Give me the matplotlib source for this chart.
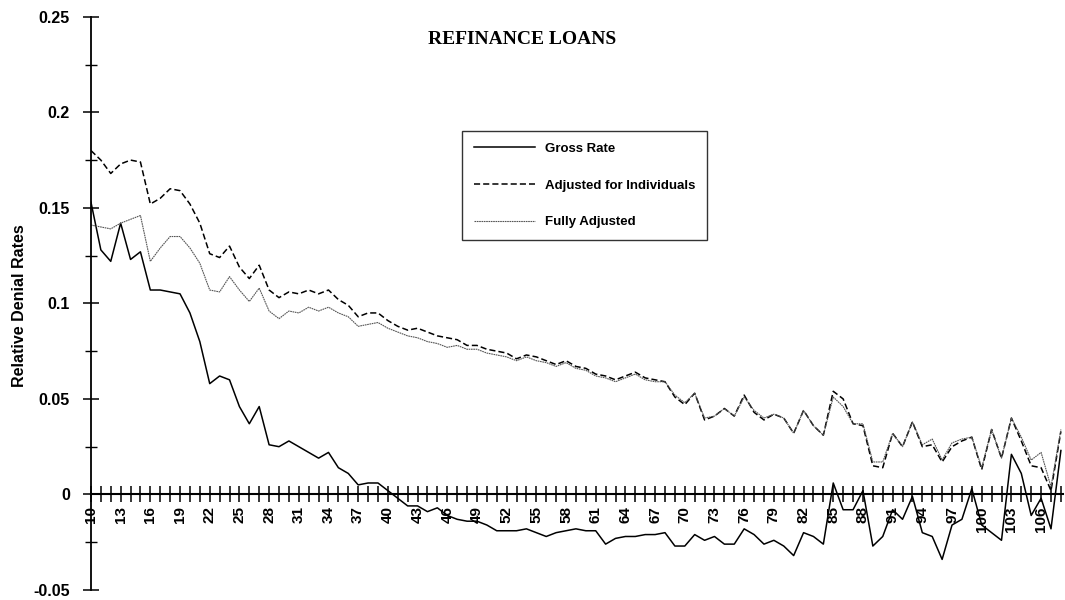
import matplotlib.pyplot as plt
import numpy as np
from matplotlib.ticker import FixedLocator, FuncFormatter

plt.rcParams['font.family'] = ['Liberation Sans', 'DejaVu Sans']

years = np.arange(10, 109)

gross = [0.153, 0.128, 0.122, 0.142, 0.123, 0.127, 0.107, 0.107, 0.106, 0.105,
         0.095, 0.080, 0.058, 0.062, 0.060, 0.046, 0.037, 0.046, 0.026, 0.025,
         0.028, 0.025, 0.022, 0.019, 0.022, 0.014, 0.011, 0.005, 0.006, 0.006,
         0.002, -0.002, -0.006, -0.006, -0.009, -0.007, -0.011, -0.013, -0.014, -0.014,
         -0.016, -0.019, -0.019, -0.019, -0.018, -0.020, -0.022, -0.020, -0.019, -0.018,
         -0.019, -0.019, -0.026, -0.023, -0.022, -0.022, -0.021, -0.021, -0.020, -0.027,
         -0.027, -0.021, -0.024, -0.022, -0.026, -0.026, -0.018, -0.021, -0.026, -0.024,
         -0.027, -0.032, -0.020, -0.022, -0.026, 0.006, -0.008, -0.008, 0.002, -0.027,
         -0.022, -0.008, -0.013, -0.001, -0.020, -0.022, -0.034, -0.016, -0.013, 0.003,
         -0.016, -0.020, -0.024, 0.021, 0.011, -0.011, -0.002, -0.018, 0.023]

adj_indiv = [0.180, 0.175, 0.168, 0.173, 0.175, 0.174, 0.152, 0.155, 0.160, 0.159,
             0.152, 0.142, 0.126, 0.124, 0.130, 0.119, 0.113, 0.120, 0.107, 0.103,
             0.106, 0.105, 0.107, 0.105, 0.107, 0.102, 0.099, 0.093, 0.095, 0.095,
             0.091, 0.088, 0.086, 0.087, 0.085, 0.083, 0.082, 0.081, 0.078, 0.078,
             0.076, 0.075, 0.074, 0.071, 0.073, 0.072, 0.070, 0.068, 0.070, 0.067,
             0.066, 0.063, 0.062, 0.060, 0.062, 0.064, 0.061, 0.060, 0.059, 0.051,
             0.047, 0.053, 0.039, 0.041, 0.045, 0.041, 0.052, 0.043, 0.039, 0.042,
             0.040, 0.032, 0.044, 0.036, 0.031, 0.054, 0.050, 0.037, 0.036, 0.015,
             0.014, 0.032, 0.025, 0.038, 0.025, 0.026, 0.017, 0.025, 0.028, 0.030,
             0.013, 0.034, 0.019, 0.040, 0.028, 0.015, 0.014, 0.002, 0.033]

fully_adj = [0.141, 0.140, 0.139, 0.142, 0.144, 0.146, 0.122, 0.129, 0.135, 0.135,
             0.129, 0.121, 0.107, 0.106, 0.114, 0.107, 0.101, 0.108, 0.096, 0.092,
             0.096, 0.095, 0.098, 0.096, 0.098, 0.095, 0.093, 0.088, 0.089, 0.090,
             0.087, 0.085, 0.083, 0.082, 0.080, 0.079, 0.077, 0.078, 0.076, 0.076,
             0.074, 0.073, 0.072, 0.070, 0.072, 0.070, 0.069, 0.067, 0.069, 0.066,
             0.065, 0.062, 0.061, 0.059, 0.061, 0.063, 0.060, 0.059, 0.059, 0.052,
             0.048, 0.053, 0.040, 0.041, 0.045, 0.041, 0.051, 0.044, 0.040, 0.042,
             0.040, 0.032, 0.044, 0.036, 0.031, 0.051, 0.046, 0.037, 0.037, 0.017,
             0.017, 0.032, 0.025, 0.038, 0.026, 0.029, 0.018, 0.027, 0.029, 0.030,
             0.014, 0.034, 0.019, 0.040, 0.030, 0.018, 0.022, 0.004, 0.034]

yticks = [-0.05, 0, 0.05, 0.1, 0.15, 0.2, 0.25]
ytick_labels = ['-0.05', '0', '0.05', '0.1', '0.15', '0.2', '0.25']

fig = plt.figure(figsize=(10.65, 6), dpi=100)
ax = fig.add_axes([0.0854, 0.0167, 0.9126, 0.9553])

ax.plot(years, gross, color='black', lw=1.1, label='Gross Rate')
ax.plot(years, adj_indiv, color='black', lw=1.1, linestyle=(0, (4, 2)),
        label='Adjusted for Individuals')
ax.plot(years, fully_adj, color='#555555', lw=0.8, linestyle=(0, (1.5, 0.6)),
        label='Fully Adjusted')

ax.set_xlim(10, 108.2)
ax.set_ylim(-0.05, 0.25)

for s in ['top', 'right']:
    ax.spines[s].set_visible(False)
ax.spines['bottom'].set_position(('data', 0))
ax.spines['bottom'].set_linewidth(1.5)
ax.spines['left'].set_linewidth(1.3)

ax.xaxis.set_major_locator(FixedLocator(years))
ax.xaxis.set_major_formatter(FuncFormatter(
    lambda v, p: str(int(round(v))) if (int(round(v)) - 10) % 3 == 0 else ''))
ax.tick_params(axis='x', direction='inout', length=11, width=1.1, pad=3,
               labelrotation=90, labelsize=11)
for t in ax.get_xticklabels():
    t.set_fontweight('bold')

ax.set_yticks(yticks)
ax.set_yticklabels(ytick_labels, fontweight='bold', fontsize=11.5)
ax.yaxis.set_minor_locator(FixedLocator([-0.025, 0.025, 0.075, 0.125, 0.175, 0.225]))
ax.tick_params(axis='y', which='major', direction='inout', length=12, width=1.1, pad=9)
ax.tick_params(axis='y', which='minor', direction='inout', length=8, width=1.0)

fig.text(0.018, 0.49, 'Relative Denial Rates', rotation=90, ha='center', va='center',
         fontsize=11.5, fontweight='bold')
fig.text(0.49, 0.935, 'REFINANCE LOANS', ha='center', va='center',
         fontsize=14, fontweight='bold', family='Liberation Serif')

leg = ax.legend(loc='upper left', bbox_to_anchor=(462 / 1065, 1 - 131 / 600),
                bbox_transform=fig.transFigure, frameon=True, fancybox=False,
                edgecolor='black', handlelength=4.6, handletextpad=0.8,
                labelspacing=1.85, borderpad=0.9, borderaxespad=0,
                prop={'weight': 'bold', 'size': 9.5})
leg.get_frame().set_linewidth(1.0)

fig.savefig('out.png', dpi=100)
